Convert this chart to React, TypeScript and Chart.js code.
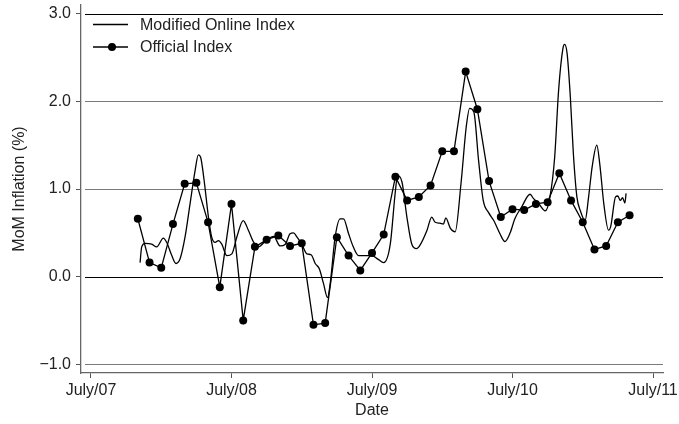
import React, { useEffect, useRef } from "react";
import { Chart, registerables } from "chart.js";

Chart.register(...registerables);

// Months counted from July 2007 (0 = July/07)
const xTickMonths = [0, 12, 24, 36, 48];
const xTickLabels = ["July/07", "July/08", "July/09", "July/10", "July/11"];
const yTickValues = [-1, 0, 1, 2, 3];
const yTickLabels = ["\u22121.0", "0.0", "1.0", "2.0", "3.0"];

const seriesNames = ["Modified Online Index", "Official Index"];

const officialMonths = [
  4, 5, 6, 7, 8, 9, 10, 11, 12, 13, 14, 15, 16, 17, 18, 19, 20, 21, 22, 23, 24, 25,
  26, 27, 28, 29, 30, 31, 32, 33, 34, 35, 36, 37, 38, 39, 40, 41, 42, 43, 44, 45, 46,
];
const officialValues = [
  0.66, 0.16, 0.1, 0.6, 1.06, 1.07, 0.62, -0.12, 0.83, -0.5, 0.34, 0.42, 0.47, 0.35,
  0.38, -0.55, -0.53, 0.45, 0.24, 0.07, 0.27, 0.48, 1.14, 0.87, 0.91, 1.04, 1.43,
  1.43, 2.34, 1.91, 1.09, 0.68, 0.77, 0.76, 0.83, 0.85, 1.18, 0.87, 0.62, 0.31, 0.35,
  0.62, 0.7,
];

const onlineMonths = [
  4.19, 4.33, 4.62, 5.19, 5.61, 6.18, 6.47, 6.9, 7.26, 7.6, 8.03, 8.46, 8.89, 9.17,
  9.37, 9.66, 10.03, 10.31, 10.6, 10.88, 11.17, 11.6, 12.03, 12.45, 13.0, 13.44, 13.9,
  14.3, 15.0, 15.6, 16.15, 16.6, 17.0, 17.3, 17.6, 18.0, 18.44, 18.8, 19.15, 19.5,
  19.86, 20.2, 20.43, 20.85, 21.28, 21.57, 22.0, 22.4, 22.85, 23.5, 24.0, 24.5, 25.0,
  25.56, 26.0, 26.18, 26.56, 26.98, 27.4, 27.8, 28.1, 28.7, 29.1, 29.4, 29.8, 30.1,
  30.3, 30.7, 31.1, 31.6, 32.05, 32.34, 32.7, 33.1, 33.5, 33.96, 34.4, 34.96, 35.35,
  35.8, 36.2, 36.8, 37.5, 37.8, 38.2, 38.8, 39.2, 39.6, 39.94, 40.3, 40.45, 40.66,
  40.94, 41.2, 41.5, 41.8, 42.2, 42.5, 42.8, 43.2, 43.45, 43.8, 44.2, 44.4, 44.8, 45.0,
  45.2, 45.4, 45.6, 45.7,
];
const onlineValues = [
  0.16, 0.34, 0.38, 0.37, 0.34, 0.44, 0.39, 0.24, 0.15, 0.2, 0.45, 0.83, 1.21, 1.39,
  1.36, 1.1, 0.68, 0.45, 0.39, 0.41, 0.37, 0.24, 0.26, 0.45, 0.64, 0.53, 0.39,
  0.34, 0.42, 0.46, 0.35, 0.37, 0.49, 0.5, 0.45, 0.37, 0.26, 0.25, 0.15, 0.09,
  -0.08, -0.24, -0.08, 0.45, 0.66, 0.66, 0.49, 0.34, 0.24, 0.24, 0.24, 0.2, 0.16,
  0.37, 0.98, 1.15, 1.08, 0.68, 0.37, 0.32, 0.36, 0.53, 0.68, 0.62, 0.61, 0.6,
  0.67, 0.55, 0.51, 1.06, 1.71, 1.92, 1.88, 1.33, 0.87, 0.73, 0.64, 0.48, 0.4,
  0.5, 0.66, 0.8, 0.94, 0.89, 0.84, 0.75, 0.91, 1.36, 2.13, 2.6, 2.65, 2.55,
  2.05, 1.4, 0.91, 0.75, 0.64, 0.91, 1.25, 1.5, 1.29, 0.83, 0.53, 0.58, 0.91, 0.92,
  0.87, 0.9, 0.84, 0.95,
];

const FONT_FAMILY = "'Liberation Sans', Arial, Helvetica, sans-serif";
const TEXT_COLOR = "#222";

const gridPlugin = {
  id: "stataGrid",
  beforeDatasetsDraw(chart: any) {
    const { ctx, chartArea } = chart;
    const ys = chart.scales.y;
    ctx.save();
    yTickValues.forEach((v) => {
      const py = Math.round(ys.getPixelForValue(v)) + 0.5;
      ctx.strokeStyle = v === 0 || v === 3 ? "#000" : "#7a7a7a";
      ctx.lineWidth = 1.2;
      ctx.beginPath();
      ctx.moveTo(chartArea.left + 4, py);
      ctx.lineTo(chartArea.right, py);
      ctx.stroke();
    });
    ctx.restore();
  },
};

const legendPlugin = {
  id: "insideLegend",
  afterDraw(chart: any) {
    const { ctx, chartArea } = chart;
    const { left, top } = chartArea;
    ctx.save();
    ctx.font = `16px ${FONT_FAMILY}`;
    ctx.textBaseline = "middle";
    ctx.textAlign = "left";
    const rows = [
      { label: seriesNames[0], y: top + 19.5, dot: false },
      { label: seriesNames[1], y: top + 42, dot: true },
    ];
    rows.forEach((r) => {
      ctx.strokeStyle = "#000";
      ctx.lineWidth = 1.3;
      ctx.beginPath();
      ctx.moveTo(left + 12, r.y);
      ctx.lineTo(left + 47, r.y);
      ctx.stroke();
      if (r.dot) {
        ctx.fillStyle = "#000";
        ctx.beginPath();
        ctx.arc(left + 31, r.y, 4, 0, Math.PI * 2);
        ctx.fill();
      }
      ctx.fillStyle = TEXT_COLOR;
      ctx.fillText(r.label, left + 59, r.y + 1);
    });
    ctx.restore();
  },
};

export default function App() {
  const canvasRef = useRef<HTMLCanvasElement | null>(null);

  useEffect(() => {
    if (!canvasRef.current) return;
    const chart = new Chart(canvasRef.current, {
      type: "line",
      data: {
        datasets: [
          {
            label: seriesNames[0],
            data: onlineMonths.map((m, i) => ({ x: m, y: onlineValues[i] })),
            borderColor: "#000",
            borderWidth: 1.3,
            pointRadius: 0,
            tension: 0.35,
            cubicInterpolationMode: "monotone",
          },
          {
            label: seriesNames[1],
            data: officialMonths.map((m, i) => ({ x: m, y: officialValues[i] })),
            borderColor: "#000",
            backgroundColor: "#000",
            borderWidth: 1.3,
            pointRadius: 4,
            pointBackgroundColor: "#000",
            pointBorderWidth: 0,
            tension: 0,
          },
        ],
      } as any,
      options: {
        animation: false,
        responsive: false,
        layout: { padding: { left: 0, right: 16, top: 5, bottom: 0 } },
        plugins: {
          legend: { display: false },
          tooltip: { enabled: false },
        },
        scales: {
          x: {
            type: "linear",
            min: -0.854,
            max: 48.854,
            afterBuildTicks: (s: any) => {
              s.ticks = xTickMonths.map((v) => ({ value: v }));
            },
            afterFit: (s: any) => {
              s.height = 51;
              s.paddingLeft = 0;
              s.paddingRight = 0;
            },
            ticks: {
              autoSkip: false,
              maxRotation: 0,
              padding: 3,
              color: TEXT_COLOR,
              font: { family: FONT_FAMILY, size: 16 },
              callback: (v: any) => {
                const i = xTickMonths.indexOf(Number(v));
                return i >= 0 ? xTickLabels[i] : "";
              },
            },
            grid: {
              drawOnChartArea: false,
              drawTicks: true,
              tickLength: 5,
              color: "#555",
              tickColor: "#555",
            },
            border: { display: true, color: "#666", width: 1.3 },
            title: {
              display: true,
              text: "Date",
              color: TEXT_COLOR,
              font: { family: FONT_FAMILY, size: 16 },
              padding: { top: 0, bottom: 4 },
            },
          },
          y: {
            type: "linear",
            min: -1.1,
            max: 3.1,
            afterBuildTicks: (s: any) => {
              s.ticks = yTickValues.map((v) => ({ value: v }));
            },
            afterFit: (s: any) => {
              s.width = 81;
              s.paddingTop = 0;
              s.paddingBottom = 0;
            },
            ticks: {
              padding: 5,
              color: TEXT_COLOR,
              font: { family: FONT_FAMILY, size: 16 },
              callback: (v: any) => {
                const i = yTickValues.indexOf(Number(v));
                return i >= 0 ? yTickLabels[i] : "";
              },
            },
            grid: {
              drawOnChartArea: false,
              drawTicks: true,
              tickLength: 5,
              color: "#555",
              tickColor: "#555",
            },
            border: { display: true, color: "#666", width: 1.3 },
            title: {
              display: true,
              text: "MoM Inflation (%)",
              color: TEXT_COLOR,
              font: { family: FONT_FAMILY, size: 16 },
              padding: { top: 10, bottom: 0 },
            },
          },
        },
      } as any,
      plugins: [gridPlugin, legendPlugin],
    });
    return () => chart.destroy();
  }, []);

  return (
    <div style={{ position: "fixed", left: 0, top: 0, width: 679, height: 424, background: "#fff" }}>
      <canvas ref={canvasRef} width={679} height={424} style={{ display: "block" }} />
    </div>
  );
}
